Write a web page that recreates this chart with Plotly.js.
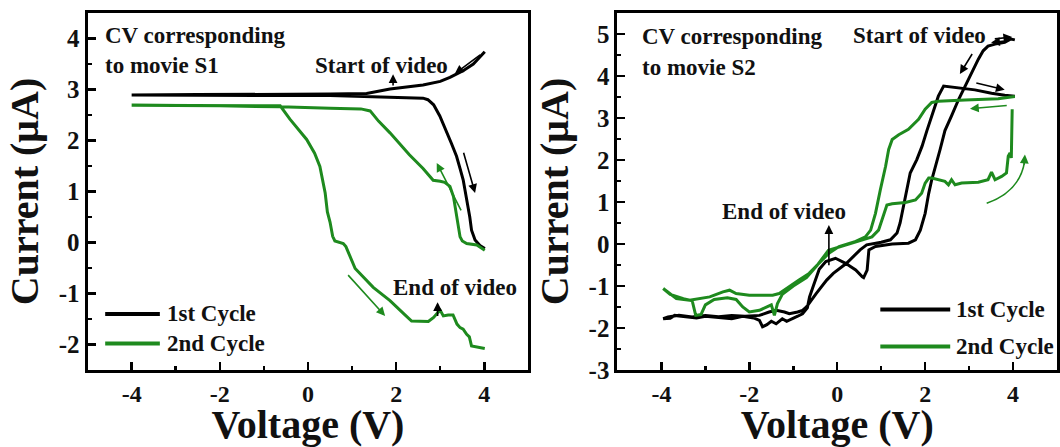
<!DOCTYPE html>
<html>
<head>
<meta charset="utf-8">
<script src="https://cdn.plot.ly/plotly-3.0.1.min.js"></script>
<style>
  html, body { margin: 0; padding: 0; background: #fff; }
  #chart { width: 1060px; height: 447px; }
</style>
</head>
<body>
<div id="chart"></div>
<script>
// ---- Movie S1 : cyclic voltammogram (voltage in V, current in µA) ----
const s1Cycle1V = [4.01, 3.90, 3.79, 3.71, 3.67, 3.63, 3.58, 3.52, 3.45, 3.37, 3.25, 3.12, 2.99, 2.85, 2.72, 2.61,
  2.20, 1.80, 1.41, 0.50, -1.00, -2.50, -4.00, -2.50, -1.00, 0.50, 1.33, 1.86, 2.61, 3.00, 3.22, 3.52, 3.75, 3.90, 4.01];
const s1Cycle1I = [-0.12, -0.06, 0.05, 0.24, 0.50, 0.70, 0.95, 1.23, 1.45, 1.69, 1.95, 2.20, 2.48, 2.70, 2.80, 2.83,
  2.84, 2.85, 2.87, 2.88, 2.88, 2.88, 2.89, 2.90, 2.90, 2.91, 2.92, 3.01, 3.09, 3.16, 3.24, 3.37, 3.50, 3.63, 3.74];

const s1Cycle2V = [4.01, 3.83, 3.60, 3.50, 3.45, 3.40, 3.37, 3.30, 3.22, 3.10, 3.00, 2.84, 2.61, 2.30, 1.86, 1.60,
  1.41, 1.20, 0.50, -0.63, -2.00, -4.00, -2.00, -0.63, -0.41, -0.03, 0.15, 0.27, 0.39, 0.44, 0.50, 0.56, 0.61,
  0.80, 0.86, 0.91, 1.00, 1.07, 1.48, 1.86, 2.20, 2.35, 2.73, 2.85, 2.95, 3.00, 3.07, 3.18, 3.29, 3.38, 3.45,
  3.52, 3.60, 3.66, 3.71, 3.85, 4.01];
const s1Cycle2I = [-0.15, -0.05, -0.02, 0.03, 0.11, 0.35, 0.57, 0.90, 1.10, 1.18, 1.20, 1.22, 1.45, 1.72, 2.15, 2.38,
  2.58, 2.62, 2.63, 2.66, 2.68, 2.69, 2.69, 2.68, 2.42, 2.02, 1.75, 1.49, 0.97, 0.60, 0.40, 0.12, 0.03,
  -0.02, -0.08, -0.19, -0.38, -0.51, -0.88, -1.14, -1.42, -1.54, -1.55, -1.47, -1.37, -1.33, -1.44, -1.42, -1.42, -1.60, -1.67,
  -1.70, -1.80, -1.85, -2.03, -2.05, -2.08];

// ---- Movie S2 : cyclic voltammogram ----
const s2Cycle1V = [4.04, 3.95, 3.81, 3.59, 3.43, 3.32, 3.21, 3.06, 2.91, 2.76, 2.60, 2.45, 2.34, 2.23, 2.15, 2.08,
  2.00, 1.89, 1.78, 1.62, 1.25, 0.87, 0.75, 0.72, 0.68, 0.60, 0.57, 0.42, 0.19, -0.04, -0.26, -0.41, -0.55, -0.63,
  -0.68, -0.75, -0.79, -0.90, -1.02, -1.15, -1.25, -1.39, -1.50, -1.60, -1.70, -1.77, -1.90, -2.15, -2.40, -2.75,
  -3.00, -3.20, -3.51, -3.70, -3.80, -3.96, -3.85, -3.60, -3.30, -3.00, -2.70, -2.40, -2.10, -1.77, -1.55, -1.39,
  -1.20, -1.09, -0.90, -0.79, -0.70, -0.60, -0.48, -0.24, -0.09, 0.21, 0.37, 0.52, 0.67, 1.00, 1.21, 1.36, 1.43,
  1.51, 1.58, 1.66, 1.81, 1.93, 2.04, 2.15, 2.30, 2.42, 2.75, 3.13, 3.51, 3.81, 4.04];
const s2Cycle1I = [4.86, 4.88, 4.80, 4.76, 4.71, 4.60, 4.40, 4.08, 3.76, 3.44, 3.05, 2.70, 2.25, 1.85, 1.53, 1.20,
  0.73, 0.33, 0.10, 0.02, 0.00, -0.06, -0.12, -0.14, -0.62, -0.80, -0.78, -0.62, -0.46, -0.34, -0.42, -0.60, -1.02, -1.26,
  -1.52, -1.62, -1.66, -1.72, -1.78, -1.84, -1.78, -1.90, -1.84, -1.92, -1.97, -1.82, -1.76, -1.72, -1.78, -1.75,
  -1.72, -1.76, -1.72, -1.70, -1.77, -1.78, -1.74, -1.70, -1.74, -1.70, -1.73, -1.70, -1.72, -1.70, -1.62, -1.58,
  -1.62, -1.66, -1.62, -1.58, -1.50, -1.35, -1.18, -0.86, -0.70, -0.46, -0.30, -0.14, -0.02, 0.04, 0.10, 0.26, 0.50,
  0.89, 1.29, 1.69, 2.01, 2.33, 2.70, 3.05, 3.52, 3.76, 3.72, 3.67, 3.59, 3.54, 3.52];

const s2Cycle2V = [4.04, 3.66, 2.91, 2.30, 2.15, 2.00, 1.85, 1.62, 1.40, 1.25, 1.17, 1.10, 0.98, 0.87, 0.76, 0.64,
  0.42, 0.04, -0.19, -0.41, -0.64, -0.87, -1.09, -1.32, -1.47, -2.00, -2.30, -2.45, -2.60, -2.90, -3.36, -3.66,
  -3.81, -3.96, -3.80, -3.50, -3.30, -3.22, -3.10, -3.00, -2.80, -2.50, -2.30, -2.15, -2.00, -1.77, -1.60, -1.50,
  -1.43, -1.36, -1.25, -1.00, -0.70, -0.45, -0.20, 0.19, 0.57, 0.79, 0.94, 1.06, 1.13, 1.25, 1.55, 1.78, 1.92,
  2.00, 2.08, 2.15, 2.45, 2.53, 2.60, 2.68, 2.83, 3.21, 3.43, 3.51, 3.59, 3.74, 3.85, 3.89, 3.93, 3.96, 3.97, 3.98];
const s2Cycle2I = [3.51, 3.46, 3.43, 3.40, 3.37, 3.21, 2.97, 2.73, 2.60, 2.49, 2.25, 1.85, 1.29, 0.73, 0.33, 0.17,
  0.06, -0.06, -0.22, -0.46, -0.70, -0.86, -1.02, -1.18, -1.22, -1.22, -1.18, -1.10, -1.14, -1.26, -1.34, -1.30,
  -1.18, -1.06, -1.20, -1.30, -1.35, -1.70, -1.68, -1.45, -1.32, -1.28, -1.32, -1.50, -1.62, -1.58, -1.50, -1.45,
  -1.70, -1.42, -1.20, -1.00, -0.80, -0.50, -0.15, -0.02, 0.10, 0.17, 0.33, 0.73, 0.93, 0.96, 0.99, 1.05, 1.21,
  1.45, 1.57, 1.57, 1.49, 1.41, 1.53, 1.41, 1.45, 1.47, 1.53, 1.71, 1.53, 1.61, 1.69, 2.09, 2.17, 2.05, 2.50, 3.21];

// Tick labels (plain hyphen for negatives)
const xTickVals = [-4, -2, 0, 2, 4];
const xTickText = ['-4', '-2', '0', '2', '4'];
const y1TickVals = [-2, -1, 0, 1, 2, 3, 4];
const y1TickText = ['-2', '-1', '0', '1', '2', '3', '4'];
const y2TickVals = [-3, -2, -1, 0, 1, 2, 3, 4, 5];
const y2TickText = ['-3', '-2', '-1', '0', '1', '2', '3', '4', '5'];

const seriesNames = ['1st Cycle', '2nd Cycle'];

const FONT = '"Liberation Serif", "Times New Roman", serif';
const BLACK = '#000000';
const GREEN = '#1e8a1e';

function trace(x, y, color, xa, ya, name) {
  return { x: x, y: y, xaxis: xa, yaxis: ya, type: 'scatter', mode: 'lines', name: name,
           showlegend: false, line: { color: color, width: 3 } };
}

const data = [
  trace(s1Cycle1V, s1Cycle1I, BLACK, 'x', 'y', seriesNames[0]),
  trace(s1Cycle2V, s1Cycle2I, GREEN, 'x', 'y', seriesNames[1]),
  trace(s2Cycle1V, s2Cycle1I, BLACK, 'x2', 'y2', seriesNames[0]),
  trace(s2Cycle2V, s2Cycle2I, GREEN, 'x2', 'y2', seriesNames[1])
];

function xAxis(domain, anchor) {
  return {
    domain: domain, anchor: anchor, range: [-5, 5],
    tickmode: 'array', tickvals: xTickVals, ticktext: xTickText,
    ticks: 'inside', ticklen: 8, tickwidth: 2.5, tickcolor: '#000',
    minor: { dtick: 1, tick0: 0, ticks: 'inside', ticklen: 4, tickwidth: 2.5, tickcolor: '#000' },
    showline: true, linewidth: 3, linecolor: '#000', mirror: true,
    showgrid: false, zeroline: false,
    tickfont: { family: FONT, size: 24, weight: 'bold', color: '#111' },
    title: { text: 'Voltage (V)', standoff: 9, font: { family: FONT, size: 40, weight: 'bold', color: '#111' } }
  };
}
function yAxis(domain, anchor, range, vals, text) {
  return {
    domain: domain, anchor: anchor, range: range,
    tickmode: 'array', tickvals: vals, ticktext: text,
    ticks: 'inside', ticklen: 8, tickwidth: 2.5, tickcolor: '#000',
    minor: { dtick: 0.5, tick0: 0, ticks: 'inside', ticklen: 4, tickwidth: 2.5, tickcolor: '#000' },
    showline: true, linewidth: 3, linecolor: '#000', mirror: true,
    showgrid: false, zeroline: false,
    tickfont: { family: FONT, size: 25, weight: 'bold', color: '#111' },
    title: { text: 'Current (μA)', standoff: 8, font: { family: FONT, size: 40, weight: 'bold', color: '#111' } }
  };
}

const textFont = { family: FONT, size: 23, weight: 'bold', color: '#111' };

function label(xr, yr, x, y, text, anchor) {
  return { xref: xr, yref: yr, x: x, y: y, text: text, showarrow: false,
           xanchor: anchor || 'left', yanchor: 'middle', font: textFont };
}
function arrow(xr, yr, x, y, ax, ay, color) {
  return { xref: xr, yref: yr, axref: xr, ayref: yr, x: x, y: y, ax: ax, ay: ay, text: '',
           showarrow: true, arrowhead: 2, arrowsize: 1.1, arrowwidth: 1.6, arrowcolor: color, standoff: 0 };
}

const annotations = [
  // panel S1
  label('x', 'y', -4.65, 4.06, 'CV corresponding'),
  label('x', 'y', -4.65, 3.47, 'to movie S1'),
  label('x', 'y', 1.67, 3.48, 'Start of video', 'center'),
  label('x', 'y', 3.34, -0.88, 'End of video', 'center'),
  label('x', 'y', -3.24, -1.40, seriesNames[0]),
  label('x', 'y', -3.24, -1.98, seriesNames[1]),
  arrow('x', 'y', 1.93, 3.30, 1.93, 3.05, BLACK),
  arrow('x', 'y', 3.33, 3.31, 3.94, 3.70, BLACK),
  arrow('x', 'y', 3.79, 0.97, 3.52, 1.79, BLACK),
  arrow('x', 'y', 2.92, 1.56, 3.49, 0.60, GREEN),
  arrow('x', 'y', 1.75, -1.44, 0.88, -0.61, GREEN),
  arrow('x', 'y', 2.94, -1.17, 2.94, -1.47, BLACK),
  // panel S2
  label('x2', 'y2', -4.49, 4.93, 'CV corresponding'),
  label('x2', 'y2', -4.49, 4.21, 'to movie S2'),
  label('x2', 'y2', 1.86, 4.96, 'Start of video', 'center'),
  label('x2', 'y2', -1.20, 0.77, 'End of video', 'center'),
  label('x2', 'y2', 2.66, -1.56, seriesNames[0]),
  label('x2', 'y2', 2.66, -2.44, seriesNames[1]),
  arrow('x2', 'y2', -0.19, 0.45, -0.19, -0.54, BLACK),
  arrow('x2', 'y2', 3.98, 4.93, 3.55, 4.88, BLACK),
  arrow('x2', 'y2', 3.50, 4.80, 3.90, 4.84, BLACK),
  arrow('x2', 'y2', 2.79, 4.05, 3.09, 4.56, BLACK),
  arrow('x2', 'y2', 3.81, 3.67, 3.13, 3.84, BLACK),
  arrow('x2', 'y2', 3.02, 3.22, 3.89, 3.30, GREEN),
  arrow('x2', 'y2', 4.27, 2.13, 4.25, 1.85, GREEN)
];

const shapes = [
  // legend keys
  { type: 'line', xref: 'x', yref: 'y', x0: -4.60, x1: -3.36, y0: -1.40, y1: -1.40, line: { color: BLACK, width: 4 } },
  { type: 'line', xref: 'x', yref: 'y', x0: -4.60, x1: -3.36, y0: -1.98, y1: -1.98, line: { color: GREEN, width: 4 } },
  { type: 'line', xref: 'x2', yref: 'y2', x0: 0.98, x1: 2.57, y0: -1.56, y1: -1.56, line: { color: BLACK, width: 4 } },
  { type: 'line', xref: 'x2', yref: 'y2', x0: 0.98, x1: 2.57, y0: -2.44, y1: -2.44, line: { color: GREEN, width: 4 } },
  // curved scan-direction arrow body
  { type: 'path', xref: 'x2', yref: 'y2', path: 'M 3.40 0.97 Q 4.15 1.25 4.26 1.95', line: { color: GREEN, width: 1.6 } }
];

const layout = {
  width: 1060, height: 447,
  margin: { l: 0, r: 0, t: 0, b: 0 },
  paper_bgcolor: '#fff', plot_bgcolor: '#fff',
  showlegend: false,
  xaxis: xAxis([0.0826, 0.4985], 'y'),
  yaxis: yAxis([0.1723, 0.9709], 'x', [-2.5, 4.5], y1TickVals, y1TickText),
  xaxis2: xAxis([0.5825, 0.9972], 'y2'),
  yaxis2: yAxis([0.1723, 0.9709], 'x2', [-3, 5.5], y2TickVals, y2TickText),
  annotations: annotations,
  shapes: shapes
};

Plotly.newPlot('chart', data, layout, { staticPlot: true, displayModeBar: false });
</script>
</body>
</html>
